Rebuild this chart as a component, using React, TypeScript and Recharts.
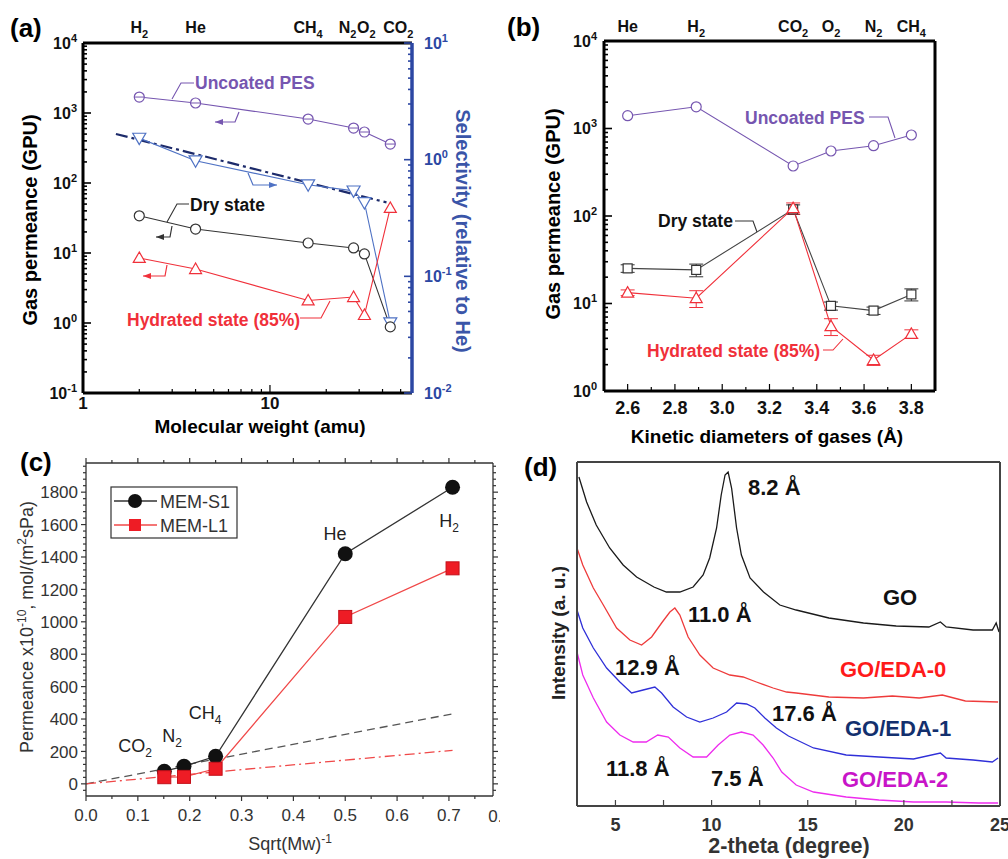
import React from 'react'
import { ComposedChart, Line, XAxis, YAxis, ErrorBar } from 'recharts'

const FONT = '"Liberation Sans", Arial, Helvetica, sans-serif'
const PURPLE = '#7656b0'
const RED = '#f0303a'
const SEL_BLUE = '#4f72c4'
const AX_BLUE = '#2c47a3'

// (a) permeance vs molecular weight
const aGases = ['H2', 'He', 'CH4', 'N2', 'O2', 'CO2']
const aMolWeight = [2, 4, 16, 28, 32, 44]
const aUncoated = [1690, 1390, 820, 610, 535, 360]
const aDry = [34, 22, 13.9, 11.8, 9.7, 0.88]
const aHydrated = [8.5, 5.9, 2.1, 2.35, 1.3, 44]
const aSelectivity = [1.53, 0.98, 0.61, 0.54, 0.43, 0.04]
const aKnudsenMw = [1.5, 42]
const aKnudsenSel = [1.66, 0.43]
// small horizontal nudges of the top gas labels so they do not collide
const aTopLabelDx = [0, 0, 0, -6, 2, 8]

// (b) permeance vs kinetic diameter
const bGases = ['He', 'H2', 'CO2', 'O2', 'N2', 'CH4']
const bKinetic = [2.6, 2.89, 3.3, 3.46, 3.64, 3.8]
const bUncoated = [1400, 1770, 373, 553, 636, 843]
const bDry = [25.2, 24.2, 119, 9.4, 8.3, 12.7]
const bDryErr = [2.5, 4, 15, 1, 0.8, 2]
const bHydrated = [13.3, 11.5, 123, 5.5, 2.26, 4.5]
const bHydratedErr = [1, 2.5, 18, 1.2, 0.3, 0.5]

// (c) permeance vs 1/sqrt(Mw)
const cInvSqrtMw = [0.151, 0.189, 0.25, 0.5, 0.707]
const cMemS1 = [78, 108, 170, 1420, 1830]
const cMemL1 = [41, 43, 93, 1030, 1330]
const cKnudsenX = [0, 0.707]
const cKnudsenS1 = [0, 432]
const cKnudsenL1 = [0, 207]

// (d) XRD patterns (offset, arbitrary units)
const goTheta = [3.1, 3.5, 4.0, 4.7, 5.4, 6.1, 7.0, 7.65, 8.35, 9.04, 9.56, 9.9, 10.26, 10.5, 10.7, 10.86, 11.04, 11.3, 11.55, 12.0, 12.7, 13.55, 14.4, 16.1, 17.9, 19.6, 21.3, 21.9, 22.2, 23.6, 24.6, 24.8, 24.95]
const goInt = [329, 304, 281, 258, 241, 229, 219, 214, 214, 219, 231, 248, 278, 311, 331, 334, 318, 278, 251, 228, 214, 201, 196, 188, 183, 180, 179, 184, 179, 176, 176, 183, 174]
const eda0Theta = [3.0, 3.3, 3.85, 4.37, 5.06, 5.75, 6.36, 6.88, 7.4, 7.83, 8.09, 8.35, 8.78, 9.39, 10.08, 10.95, 11.64, 12.33, 13.2, 13.9, 14.4, 16.1, 17.9, 19.4, 20.8, 22.0, 23.2, 24.9]
const eda0Int = [258, 241, 218, 201, 178, 166, 161, 169, 183, 194, 198, 191, 169, 151, 138, 131, 129, 124, 118, 114, 113, 109, 108, 110, 108, 111, 105, 104]
const eda1Theta = [3.0, 3.3, 3.85, 4.54, 5.23, 5.84, 6.44, 7.05, 7.4, 8.0, 8.7, 9.39, 10.08, 10.78, 11.3, 11.82, 12.25, 12.77, 13.37, 14.0, 15.3, 17.0, 18.7, 20.5, 21.9, 22.2, 23.6, 24.6, 24.9]
const eda1Int = [196, 178, 158, 138, 124, 113, 116, 119, 113, 99, 89, 84, 88, 94, 103, 102, 98, 88, 78, 70, 58, 51, 49, 47, 53, 48, 46, 44, 48]
const eda2Theta = [3.0, 3.3, 3.85, 4.54, 5.23, 5.92, 6.6, 7.2, 7.75, 8.35, 9.04, 9.74, 10.34, 10.95, 11.55, 12.16, 12.68, 13.2, 13.65, 14.4, 15.3, 17.0, 18.7, 20.5, 22.2, 23.9, 24.9]
const eda2Int = [154, 131, 108, 84, 71, 64, 64, 71, 69, 58, 49, 49, 61, 71, 74, 71, 61, 48, 34, 21, 14, 9, 6, 4, 4, 3, 3]

// tick positions
const logTicks = (lo: number, hi: number) => {
  const out: number[] = []
  for (let e = lo; e < hi; e++) for (let m = 1; m < 10; m++) out.push(m * 10 ** e)
  out.push(10 ** hi)
  return out
}
const range = (a: number, b: number, s: number) => {
  const out: number[] = []
  for (let v = a; v <= b + 1e-9; v += s) out.push(Math.round(v * 1000) / 1000)
  return out
}
const aXTicks = logTicks(0, 2).filter((v) => v <= 57)
const aXMajors = [1, 10]
const aYTicks = logTicks(-1, 4)
const aYMajors = [0.1, 1, 10, 100, 1000, 10000]
const aRTicks = logTicks(-2, 1)
const aRMajors = [0.01, 0.1, 1, 10]
const bYTicks = logTicks(0, 4)
const bYMajors = [1, 10, 100, 1000, 10000]
const bXTicks = range(2.5, 3.9, 0.1)
const bXMajors = range(2.6, 3.8, 0.2)
const cXTicks = range(0, 0.75, 0.05)
const cXMajors = range(0, 0.7, 0.1)
const cYTicks = range(-40, 1960, 40)
const cYMajors = range(0, 1800, 200)
const dXTicks = range(5, 25, 2.5)
const dXMajors = [5, 10, 15, 20, 25]

const near = (arr: number[], v: number) => arr.some((a) => Math.abs(a - v) < 1e-6 * Math.max(1, Math.abs(a)))

const pow10 = (v: number) => (
  <>
    <tspan>10</tspan>
    <tspan dy={-7} fontSize={11}>{Math.round(Math.log10(v))}</tspan>
  </>
)
const chem = (name: string, sub = 11, dy = 5, dx = 0) => {
  const m = name.match(/^([A-Za-z]+)(\d*)$/)
  if (!m) return name
  return (
    <>
      <tspan dx={dx}>{m[1]}</tspan>
      {m[2] && <tspan dy={dy} fontSize={sub}>{m[2]}</tspan>}
    </>
  )
}

type Side = 'left' | 'right' | 'top' | 'bottom'
interface TickCfg {
  side: Side
  inward: boolean
  majors: number[]
  majorLen: number
  minorLen: number
  stroke: string
  strokeWidth?: number
  label?: (v: number) => React.ReactNode
  gap: number
  fontSize: number
  fontWeight?: number | string
  fill: string
}

function makeTick(c: TickCfg) {
  return (p: any) => {
    const { x, y, payload, index } = p
    const v = payload.value
    const major = near(c.majors, v)
    const len = major ? c.majorLen : c.minorLen
    const s = c.inward ? 1 : -1
    let x2 = x
    let y2 = y
    if (c.side === 'left') x2 = x + s * len
    if (c.side === 'right') x2 = x - s * len
    if (c.side === 'bottom') y2 = y - s * len
    if (c.side === 'top') y2 = y + s * len
    const out = c.inward ? 0 : len
    let lx = x
    let ly = y
    let anchor: 'start' | 'middle' | 'end' = 'middle'
    if (c.side === 'left') { lx = x - out - c.gap; ly = y + c.fontSize * 0.36; anchor = 'end' }
    if (c.side === 'right') { lx = x + out + c.gap; ly = y + c.fontSize * 0.36; anchor = 'start' }
    if (c.side === 'bottom') ly = y + out + c.gap + c.fontSize * 0.75
    if (c.side === 'top') ly = y - out - c.gap
    return (
      <g key={`t-${index}`}>
        {len > 0 && <line x1={x} y1={y} x2={x2} y2={y2} stroke={c.stroke} strokeWidth={c.strokeWidth ?? 1.2} />}
        {major && c.label && (
          <text x={lx} y={ly} textAnchor={anchor} fontSize={c.fontSize} fontWeight={c.fontWeight ?? 'normal'} fill={c.fill} fontFamily={FONT}>
            {c.label(v)}
          </text>
        )}
      </g>
    )
  }
}

// markers
const openCircle = (stroke: string, bar = false, r = 5) => (p: any) => {
  if (p.cx == null || p.cy == null) return <g key={`n${p.index}`} />
  return (
    <g key={`oc${p.index}`}>
      <circle cx={p.cx} cy={p.cy} r={r} fill="#fff" stroke={stroke} strokeWidth={1.2} />
      {bar && <line x1={p.cx - r} x2={p.cx + r} y1={p.cy} y2={p.cy} stroke={stroke} strokeWidth={1} />}
    </g>
  )
}
const openTri = (stroke: string, up: boolean, sz = 6) => (p: any) => {
  if (p.cx == null || p.cy == null) return <g key={`n${p.index}`} />
  const { cx, cy } = p
  const pts = up
    ? `${cx},${cy - sz} ${cx - sz},${cy + sz * 0.75} ${cx + sz},${cy + sz * 0.75}`
    : `${cx},${cy + sz} ${cx - sz},${cy - sz * 0.75} ${cx + sz},${cy - sz * 0.75}`
  return <polygon key={`tr${p.index}`} points={pts} fill="#fff" stroke={stroke} strokeWidth={1.2} />
}
const openSquare = (stroke: string, h = 4.5) => (p: any) => {
  if (p.cx == null || p.cy == null) return <g key={`n${p.index}`} />
  return <rect key={`sq${p.index}`} x={p.cx - h} y={p.cy - h} width={2 * h} height={2 * h} fill="#fff" stroke={stroke} strokeWidth={1.2} />
}
const filledCircle = (p: any) => <circle key={`fc${p.index}`} cx={p.cx} cy={p.cy} r={7.5} fill="#111" />
const filledSquare = (p: any) => (
  <rect key={`fs${p.index}`} x={p.cx - 6.5} y={p.cy - 6.5} width={13} height={13} fill="#ee1c25" stroke="#c4101a" strokeWidth={1} />
)

const ZERO = { top: 0, right: 0, bottom: 0, left: 0 }
const noTickLine = { tickSize: 0, tickMargin: 0, tickLine: false, interval: 0 as const }

function PanelA() {
  const rows = aMolWeight.map((mw, i) => ({ mw, unc: aUncoated[i], dry: aDry[i], hyd: aHydrated[i], sel: aSelectivity[i] }))
  const knud = aKnudsenMw.map((mw, i) => ({ mw, knud: aKnudsenSel[i] }))
  const black = { stroke: '#000', strokeWidth: 3 }
  const topLabel = (v: number) => {
    const i = aMolWeight.indexOf(v)
    return chem(aGases[i], 11, 5, aTopLabelDx[i])
  }
  return (
    <ComposedChart width={500} height={440} data={rows} margin={ZERO}>
      <XAxis xAxisId="b" dataKey="mw" type="number" scale="log" domain={[1, 57.5]} allowDataOverflow ticks={aXTicks} height={47} {...noTickLine}
        axisLine={black}
        tick={makeTick({ side: 'bottom', inward: true, majors: aXMajors, majorLen: 8, minorLen: 4, stroke: '#000', gap: 3, fontSize: 17, fontWeight: 'bold', fill: '#111', label: (v) => String(v) })} />
      <XAxis xAxisId="t" dataKey="mw" orientation="top" type="number" scale="log" domain={[1, 57.5]} allowDataOverflow ticks={aMolWeight} height={43} {...noTickLine}
        axisLine={black}
        tick={makeTick({ side: 'top', inward: true, majors: aMolWeight, majorLen: 0, minorLen: 0, stroke: '#000', gap: 10, fontSize: 16, fontWeight: 'bold', fill: '#111', label: topLabel })} />
      <YAxis yAxisId="l" type="number" scale="log" domain={[0.1, 10000]} allowDataOverflow ticks={aYTicks} width={83} {...noTickLine}
        axisLine={black}
        tick={makeTick({ side: 'left', inward: true, majors: aYMajors, majorLen: 8, minorLen: 4, stroke: '#000', strokeWidth: 1.6, gap: 6, fontSize: 16, fontWeight: 'bold', fill: '#111', label: pow10 })} />
      <YAxis yAxisId="r" orientation="right" type="number" scale="log" domain={[0.01, 10]} allowDataOverflow ticks={aRTicks} width={88} {...noTickLine}
        axisLine={{ stroke: AX_BLUE, strokeWidth: 3.5 }}
        tick={makeTick({ side: 'right', inward: true, majors: aRMajors, majorLen: 8, minorLen: 4, stroke: AX_BLUE, strokeWidth: 1.6, gap: 12, fontSize: 16, fontWeight: 'bold', fill: AX_BLUE, label: pow10 })} />
      <Line xAxisId="t" yAxisId="l" dataKey="unc" stroke="none" dot={false} activeDot={false} legendType="none" isAnimationActive={false} />
      <Line xAxisId="b" yAxisId="r" data={knud} dataKey="knud" stroke="#1d2b6b" strokeWidth={2.2} strokeDasharray="12 4 3 4" dot={false} isAnimationActive={false} />
      <Line xAxisId="b" yAxisId="l" dataKey="unc" stroke={PURPLE} strokeWidth={1.1} dot={openCircle(PURPLE, true)} isAnimationActive={false} />
      <Line xAxisId="b" yAxisId="r" dataKey="sel" stroke={SEL_BLUE} strokeWidth={1.1} dot={openTri(SEL_BLUE, false, 6.5)} isAnimationActive={false} />
      <Line xAxisId="b" yAxisId="l" dataKey="dry" stroke="#333" strokeWidth={1.1} dot={openCircle('#333')} isAnimationActive={false} />
      <Line xAxisId="b" yAxisId="l" dataKey="hyd" stroke={RED} strokeWidth={1.1} dot={openTri(RED, true)} isAnimationActive={false} />
    </ComposedChart>
  )
}

function PanelB() {
  const rows = bKinetic.map((d, i) => ({ d, unc: bUncoated[i], dry: bDry[i], dryErr: bDryErr[i], hyd: bHydrated[i], hydErr: bHydratedErr[i] }))
  const black = { stroke: '#000', strokeWidth: 3 }
  return (
    <ComposedChart width={508} height={440} data={rows} margin={ZERO}>
      <XAxis xAxisId="b" dataKey="d" type="number" domain={[2.5, 3.9]} allowDataOverflow ticks={bXTicks} height={49} {...noTickLine}
        axisLine={black}
        tick={makeTick({ side: 'bottom', inward: true, majors: bXMajors, majorLen: 7, minorLen: 4, stroke: '#000', gap: 9, fontSize: 18, fontWeight: 'bold', fill: '#111', label: (v) => v.toFixed(1) })} />
      <XAxis xAxisId="t" dataKey="d" orientation="top" type="number" domain={[2.5, 3.9]} allowDataOverflow ticks={bKinetic} height={41} {...noTickLine}
        axisLine={black}
        tick={makeTick({ side: 'top', inward: true, majors: bKinetic, majorLen: 0, minorLen: 0, stroke: '#000', gap: 9, fontSize: 16, fontWeight: 'bold', fill: '#111', label: (v) => chem(bGases[bKinetic.indexOf(v)]) })} />
      <YAxis yAxisId="l" type="number" scale="log" domain={[1, 10000]} allowDataOverflow ticks={bYTicks} width={104} {...noTickLine}
        axisLine={black}
        tick={makeTick({ side: 'left', inward: true, majors: bYMajors, majorLen: 8, minorLen: 4, stroke: '#000', strokeWidth: 1.6, gap: 7, fontSize: 16, fontWeight: 'bold', fill: '#111', label: pow10 })} />
      <YAxis yAxisId="r" orientation="right" type="number" domain={[0, 1]} width={73} tick={false} tickLine={false} axisLine={black} />
      <Line xAxisId="t" yAxisId="l" dataKey="unc" stroke="none" dot={false} activeDot={false} legendType="none" isAnimationActive={false} />
      <Line xAxisId="b" yAxisId="l" dataKey="unc" stroke={PURPLE} strokeWidth={1.1} dot={openCircle(PURPLE)} isAnimationActive={false} />
      <Line xAxisId="b" yAxisId="l" dataKey="dry" stroke="#444" strokeWidth={1.1} dot={openSquare('#333')} isAnimationActive={false}>
        <ErrorBar dataKey="dryErr" width={7} stroke="#333" strokeWidth={1} direction="y" />
      </Line>
      <Line xAxisId="b" yAxisId="l" dataKey="hyd" stroke={RED} strokeWidth={1.1} dot={openTri(RED, true)} isAnimationActive={false}>
        <ErrorBar dataKey="hydErr" width={7} stroke={RED} strokeWidth={1} direction="y" />
      </Line>
    </ComposedChart>
  )
}

function PanelC() {
  const rows = cInvSqrtMw.map((x, i) => ({ x, s1: cMemS1[i], l1: cMemL1[i] }))
  const ref = cKnudsenX.map((x, i) => ({ x, s1k: cKnudsenS1[i], l1k: cKnudsenL1[i] }))
  const frame = { stroke: '#333', strokeWidth: 1.3 }
  const tk = { majorLen: 5, minorLen: 3, stroke: '#333', fontSize: 17, fill: '#333' }
  return (
    <ComposedChart width={500} height={419} data={rows} margin={ZERO}>
      <XAxis xAxisId="b" dataKey="x" type="number" domain={[0, 0.785]} allowDataOverflow ticks={cXTicks} height={63} {...noTickLine}
        axisLine={frame}
        tick={makeTick({ ...tk, side: 'bottom', inward: false, majors: cXMajors, gap: 7, label: (v) => v.toFixed(1) })} />
      <XAxis xAxisId="t" dataKey="x" orientation="top" type="number" domain={[0, 0.785]} allowDataOverflow ticks={cXTicks} height={23} {...noTickLine}
        axisLine={frame}
        tick={makeTick({ ...tk, side: 'top', inward: false, majors: cXMajors, gap: 0 })} />
      <YAxis yAxisId="l" type="number" domain={[-75, 1980]} allowDataOverflow ticks={cYTicks} width={86} {...noTickLine}
        axisLine={frame}
        tick={makeTick({ ...tk, side: 'left', inward: false, majors: cYMajors, gap: 3, label: (v) => String(v) })} />
      <YAxis yAxisId="r" orientation="right" type="number" domain={[-75, 1980]} allowDataOverflow ticks={cYTicks} width={7} {...noTickLine}
        axisLine={frame}
        tick={makeTick({ ...tk, side: 'right', inward: false, majors: cYMajors, gap: 0 })} />
      <Line xAxisId="t" yAxisId="r" dataKey="s1" stroke="none" dot={false} activeDot={false} legendType="none" isAnimationActive={false} />
      <Line xAxisId="b" yAxisId="l" data={ref} dataKey="s1k" stroke="#555" strokeWidth={1.3} strokeDasharray="8 5" dot={false} isAnimationActive={false} />
      <Line xAxisId="b" yAxisId="l" data={ref} dataKey="l1k" stroke="#f04848" strokeWidth={1.3} strokeDasharray="10 4 2 4" dot={false} isAnimationActive={false} />
      <Line xAxisId="b" yAxisId="l" dataKey="s1" stroke="#333" strokeWidth={1.3} dot={filledCircle} isAnimationActive={false} />
      <Line xAxisId="b" yAxisId="l" dataKey="l1" stroke="#f04848" strokeWidth={1.3} dot={filledSquare} isAnimationActive={false} />
    </ComposedChart>
  )
}

function PanelD() {
  const mk = (t: number[], v: number[]) => t.map((x, i) => ({ t: x, v: v[i] }))
  const frame = { stroke: '#444', strokeWidth: 2 }
  return (
    <ComposedChart width={508} height={419} margin={ZERO}>
      <XAxis xAxisId="b" dataKey="t" type="number" domain={[3, 25]} allowDataOverflow ticks={dXTicks} height={53} {...noTickLine}
        axisLine={frame}
        tick={makeTick({ side: 'bottom', inward: true, majors: dXMajors, majorLen: 6, minorLen: 6, stroke: '#444', gap: 11, fontSize: 18, fontWeight: 'bold', fill: '#333', label: (v) => String(v) })} />
      <XAxis xAxisId="t" orientation="top" type="number" domain={[3, 25]} height={22} tick={false} tickLine={false} axisLine={frame} />
      <YAxis yAxisId="l" type="number" domain={[0, 344]} allowDataOverflow width={77} tick={false} tickLine={false} axisLine={frame} />
      <YAxis yAxisId="r" orientation="right" type="number" domain={[0, 344]} width={8} tick={false} tickLine={false} axisLine={frame} />
      <Line xAxisId="b" yAxisId="l" data={mk(goTheta, goInt)} dataKey="v" stroke="#1a1a1a" strokeWidth={1.3} dot={false} isAnimationActive={false} />
      <Line xAxisId="b" yAxisId="l" data={mk(eda0Theta, eda0Int)} dataKey="v" stroke="#ee3b3b" strokeWidth={1.3} dot={false} isAnimationActive={false} />
      <Line xAxisId="b" yAxisId="l" data={mk(eda1Theta, eda1Int)} dataKey="v" stroke="#2f2fd8" strokeWidth={1.3} dot={false} isAnimationActive={false} />
      <Line xAxisId="b" yAxisId="l" data={mk(eda2Theta, eda2Int)} dataKey="v" stroke="#ee2cee" strokeWidth={1.3} dot={false} isAnimationActive={false} />
    </ComposedChart>
  )
}

function Arrow({ pts, color, w = 1.2 }: { pts: number[][]; color: string; w?: number }) {
  const [x1, y1] = pts[pts.length - 2]
  const [x2, y2] = pts[pts.length - 1]
  const a = Math.atan2(y2 - y1, x2 - x1)
  const L = 8
  const W = 3
  const hx = x2 - L * Math.cos(a)
  const hy = y2 - L * Math.sin(a)
  const px = -Math.sin(a) * W
  const py = Math.cos(a) * W
  return (
    <g>
      <polyline points={pts.map((p) => p.join(',')).join(' ')} fill="none" stroke={color} strokeWidth={w} />
      <polygon points={`${x2},${y2} ${hx + px},${hy + py} ${hx - px},${hy - py}`} fill={color} />
    </g>
  )
}
const Lead = ({ pts, color }: { pts: number[][]; color: string }) => (
  <polyline points={pts.map((p) => p.join(',')).join(' ')} fill="none" stroke={color} strokeWidth={1.1} />
)

function Overlay() {
  const bold = { fontFamily: FONT, fontWeight: 'bold' as const }
  const reg = { fontFamily: FONT }
  return (
    <svg width={1008} height={859} style={{ position: 'absolute', left: 0, top: 0, pointerEvents: 'none' }}>
      <defs>
        <clipPath id="clipC"><rect x={0} y={440} width={500} height={419} /></clipPath>
      </defs>
      {/* panel letters */}
      <text x={10} y={37} fontSize={26} {...bold}>(a)</text>
      <text x={507} y={36} fontSize={26} {...bold}>(b)</text>
      <text x={20} y={471} fontSize={26} {...bold}>(c)</text>
      <text x={524} y={476} fontSize={26} {...bold}>(d)</text>

      {/* (a) axis titles and annotations */}
      <text x={37} y={220} fontSize={20} textAnchor="middle" transform="rotate(-90 37 220)" {...bold}>Gas permeance (GPU)</text>
      <text x={456} y={231} fontSize={20} textAnchor="middle" fill="#3a55a8" transform="rotate(90 456 231)" {...bold}>Selectivity (relative to He)</text>
      <text x={260} y={433} fontSize={19} textAnchor="middle" {...bold}>Molecular weight (amu)</text>
      <text x={195} y={89} fontSize={17.5} fill={PURPLE} {...bold}>Uncoated PES</text>
      <Lead pts={[[194, 83], [181, 83], [172, 99]]} color={PURPLE} />
      <Arrow pts={[[239, 112], [235, 122], [215, 122]]} color={PURPLE} />
      <Arrow pts={[[248, 173], [253, 185], [277, 185]]} color={SEL_BLUE} />
      <text x={190} y={211} fontSize={17.5} fill="#111" {...bold}>Dry state</text>
      <Lead pts={[[189, 204], [177, 204], [167, 222]]} color="#333" />
      <Arrow pts={[[172, 226], [170, 237], [156, 237]]} color="#333" />
      <text x={127} y={326} fontSize={17.5} fill={RED} {...bold}>Hydrated state (85%)</text>
      <Lead pts={[[300, 318], [321, 318], [330, 301]]} color={RED} />
      <Arrow pts={[[167, 265], [165, 276], [143, 276]]} color={RED} />

      {/* (b) */}
      <text x={560} y={214} fontSize={20} textAnchor="middle" transform="rotate(-90 560 214)" {...bold}>Gas permeance (GPU)</text>
      <text x={767} y={443} fontSize={19} textAnchor="middle" {...bold}>Kinetic diameters of gases (Å)</text>
      <text x={745} y={124} fontSize={17.5} fill={PURPLE} {...bold}>Uncoated PES</text>
      <Lead pts={[[869, 117], [888, 117], [895, 138]]} color={PURPLE} />
      <text x={658} y={227} fontSize={17.5} fill="#111" {...bold}>Dry state</text>
      <Lead pts={[[735, 221], [753, 221], [757, 232]]} color="#333" />
      <text x={647} y={357} fontSize={17.5} fill={RED} {...bold}>Hydrated state (85%)</text>
      <Lead pts={[[823, 350], [833, 350], [843, 339]]} color={RED} />

      {/* (c) */}
      <text x={33} y={627} fontSize={18} textAnchor="middle" fill="#333" transform="rotate(-90 33 627)" {...reg}>
        Permeance x10<tspan dy={-7} fontSize={12}>-10</tspan><tspan dy={7}>, mol/(m</tspan><tspan dy={-7} fontSize={12}>2</tspan><tspan dy={7}>sPa)</tspan>
      </text>
      <text x={290} y={850} fontSize={18} textAnchor="middle" fill="#333" {...reg}>
        Sqrt(Mw)<tspan dy={-7} fontSize={12}>-1</tspan>
      </text>
      <text x={500} y={822} fontSize={17} textAnchor="middle" fill="#333" clipPath="url(#clipC)" {...reg}>0.8</text>
      <text x={335} y={540} fontSize={18} textAnchor="middle" fill="#222" {...reg}>He</text>
      <text x={449} y={527} fontSize={18} textAnchor="middle" fill="#222" {...reg}>{chem('H2', 12, 5)}</text>
      <text x={205} y={719} fontSize={18} textAnchor="middle" fill="#222" {...reg}>{chem('CH4', 12, 5)}</text>
      <text x={172} y={742} fontSize={18} textAnchor="middle" fill="#222" {...reg}>{chem('N2', 12, 5)}</text>
      <text x={135} y={752} fontSize={18} textAnchor="middle" fill="#222" {...reg}>{chem('CO2', 12, 5)}</text>
      <rect x={111} y={487} width={126} height={51} fill="#fff" stroke="#333" strokeWidth={1.2} />
      <line x1={114} x2={157} y1={501} y2={501} stroke="#333" strokeWidth={1.3} />
      <circle cx={135} cy={501} r={7} fill="#111" />
      <text x={160} y={508} fontSize={18} fill="#333" {...reg}>MEM-S1</text>
      <line x1={114} x2={157} y1={525} y2={525} stroke="#f04848" strokeWidth={1.3} />
      <rect x={129} y={519} width={12} height={12} fill="#ee1c25" />
      <text x={160} y={532} fontSize={18} fill="#333" {...reg}>MEM-L1</text>

      {/* (d) */}
      <text x={565} y={633} fontSize={19} textAnchor="middle" fill="#222" transform="rotate(-90 565 633)" {...bold}>Intensity (a. u.)</text>
      <text x={789} y={853} fontSize={21.5} textAnchor="middle" fill="#333" {...bold}>2-theta (degree)</text>
      <text x={748} y={495} fontSize={22} fill="#111" {...bold}>8.2 Å</text>
      <text x={688} y={622} fontSize={22} fill="#111" {...bold}>11.0 Å</text>
      <text x={883} y={605} fontSize={22} fill="#111" {...bold}>GO</text>
      <text x={615} y={675} fontSize={22} fill="#111" {...bold}>12.9 Å</text>
      <text x={840} y={677} fontSize={22} fill="#ff1a1a" {...bold}>GO/EDA-0</text>
      <text x={772} y={721} fontSize={22} fill="#111" {...bold}>17.6 Å</text>
      <text x={845} y={736} fontSize={22} fill="#13306e" {...bold}>GO/EDA-1</text>
      <text x={606} y={776} fontSize={22} fill="#111" {...bold}>11.8 Å</text>
      <text x={711} y={786} fontSize={22} fill="#111" {...bold}>7.5 Å</text>
      <text x={842} y={787} fontSize={22} fill="#c815c8" {...bold}>GO/EDA-2</text>
    </svg>
  )
}

export default function App() {
  return (
    <div style={{ position: 'absolute', left: 0, top: 0, width: 1008, height: 859, background: '#fff', overflow: 'hidden', fontFamily: FONT }}>
      <div style={{ position: 'absolute', left: 0, top: 0 }}><PanelA /></div>
      <div style={{ position: 'absolute', left: 500, top: 0 }}><PanelB /></div>
      <div style={{ position: 'absolute', left: 0, top: 440 }}><PanelC /></div>
      <div style={{ position: 'absolute', left: 500, top: 440 }}><PanelD /></div>
      <Overlay />
    </div>
  )
}
